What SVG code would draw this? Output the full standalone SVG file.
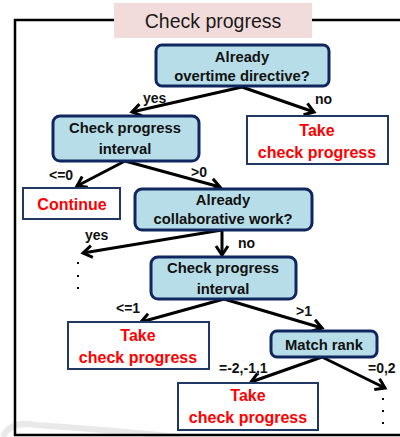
<svg xmlns="http://www.w3.org/2000/svg" width="400" height="437" viewBox="0 0 400 437">
  <defs>
    <marker id="chevron" markerUnits="userSpaceOnUse" markerWidth="16" markerHeight="16" viewBox="-12 -8 14 16" refX="0" refY="0" orient="auto">
      <path d="M -9 -6 L 0 0 L -9 6" fill="none" stroke="#000" stroke-width="3" stroke-linejoin="miter"/>
    </marker>
    <style>
      .frame { fill: none; stroke: #000; stroke-width: 2.5; }
      .title-bg { fill: #f2dcdb; }
      .title { font-family: "Liberation Sans", Arial, sans-serif; font-size: 19.5px; fill: #1a1a1a; text-anchor: middle; }
      .decision { fill: #b7dee8; stroke: #10265e; stroke-width: 3; }
      .action { fill: #fff; stroke: #1f3864; stroke-width: 2; }
      .dtext { font-family: "Liberation Sans", Arial, sans-serif; font-weight: bold; font-size: 14.8px; fill: #111; text-anchor: middle; }
      .atext { font-family: "Liberation Sans", Arial, sans-serif; font-weight: bold; font-size: 16px; fill: #ff0000; text-anchor: middle; }
      .label { font-family: "Liberation Sans", Arial, sans-serif; font-weight: bold; font-size: 14px; fill: #111; }
      .edge { fill: none; stroke: #000; stroke-width: 3; marker-end: url(#chevron); }
      .dot { fill: #000; }
    </style>
  </defs>

  <rect width="400" height="437" fill="#fff"/>

  <!-- faint background swoosh -->
  <path d="M 3 437 Q 10 420 36 425 Q 110 430 180 437" fill="none" stroke="#e9e9e9" stroke-width="6"/>

  <!-- outer frame with heading -->
  <rect class="frame" x="15" y="20" width="400" height="415"/>
  <g id="heading">
    <rect class="title-bg" x="114" y="3" width="198" height="35"/>
    <text class="title" x="213" y="28">Check progress</text>
  </g>

  <!-- connectors -->
  <g id="connectors">
    <line class="edge" x1="242" y1="87" x2="132" y2="112"/>
    <line class="edge" x1="242" y1="87" x2="314" y2="112"/>
    <line class="edge" x1="125" y1="161" x2="77" y2="186"/>
    <line class="edge" x1="125" y1="161" x2="220" y2="187"/>
    <line class="edge" x1="222" y1="230" x2="83" y2="253"/>
    <line class="edge" x1="222" y1="230" x2="222" y2="255"/>
    <line class="edge" x1="224" y1="299" x2="141" y2="322"/>
    <line class="edge" x1="224" y1="299" x2="322" y2="328"/>
    <line class="edge" x1="322" y1="357" x2="251" y2="382"/>
    <line class="edge" x1="322" y1="357" x2="385" y2="388"/>

    <text class="label" x="143" y="103">yes</text>
    <text class="label" x="315" y="104">no</text>
    <text class="label" x="49" y="180">&lt;=0</text>
    <text class="label" x="191" y="177">&gt;0</text>
    <text class="label" x="85" y="240">yes</text>
    <text class="label" x="238" y="248">no</text>
    <text class="label" x="116" y="313">&lt;=1</text>
    <text class="label" x="296" y="316">&gt;1</text>
    <text class="label" x="219" y="373">=-2,-1,1</text>
    <text class="label" x="368" y="373">=0,2</text>

    <!-- continuation dots -->
    <rect class="dot" x="77" y="262" width="2" height="2"/>
    <rect class="dot" x="77" y="275" width="2" height="2"/>
    <rect class="dot" x="77" y="287" width="2" height="2"/>
    <rect class="dot" x="382" y="398" width="2" height="2"/>
    <rect class="dot" x="382" y="410" width="2" height="2"/>
    <rect class="dot" x="382" y="422" width="2" height="2"/>
  </g>

  <!-- nodes -->
  <g id="overtime">
    <rect class="decision" x="156" y="45" width="173" height="41" rx="6"/>
    <text class="dtext" x="242" y="62">Already</text>
    <text class="dtext" x="242" y="81">overtime directive?</text>
  </g>

  <g id="interval1">
    <rect class="decision" x="53" y="116" width="146" height="45" rx="7"/>
    <text class="dtext" x="125" y="133">Check progress</text>
    <text class="dtext" x="125" y="154">interval</text>
  </g>

  <g id="take1">
    <rect class="action" x="247" y="116" width="141" height="48"/>
    <text class="atext" x="317" y="136">Take</text>
    <text class="atext" x="317" y="158">check progress</text>
  </g>

  <g id="continue">
    <rect class="action" x="23" y="188" width="97" height="31"/>
    <text class="atext" x="72" y="210">Continue</text>
  </g>

  <g id="collaborative">
    <rect class="decision" x="135" y="189" width="177" height="41" rx="7"/>
    <text class="dtext" x="223" y="205">Already</text>
    <text class="dtext" x="223" y="224">collaborative work?</text>
  </g>

  <g id="interval2">
    <rect class="decision" x="151" y="257" width="145" height="42" rx="7"/>
    <text class="dtext" x="223" y="273">Check progress</text>
    <text class="dtext" x="223" y="294">interval</text>
  </g>

  <g id="take2">
    <rect class="action" x="68" y="322" width="141" height="47"/>
    <text class="atext" x="138" y="341">Take</text>
    <text class="atext" x="138" y="363">check progress</text>
  </g>

  <g id="matchrank">
    <rect class="decision" x="271" y="331" width="106" height="26" rx="6"/>
    <text class="dtext" x="324" y="350">Match rank</text>
  </g>

  <g id="take3">
    <rect class="action" x="178" y="383" width="140" height="47"/>
    <text class="atext" x="248" y="401">Take</text>
    <text class="atext" x="248" y="423">check progress</text>
  </g>
</svg>
